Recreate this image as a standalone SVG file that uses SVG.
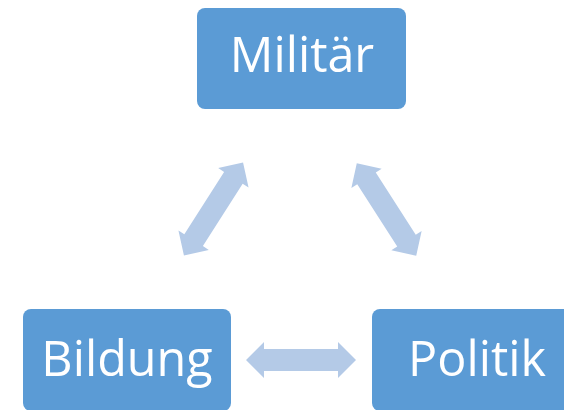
<svg xmlns="http://www.w3.org/2000/svg" width="564" height="410" viewBox="0 0 564 410">
<defs>
<style>
.box{fill:#5B9BD5;}
.lbl{fill:#FFFFFF;font-family:"Open Sans","Liberation Sans",sans-serif;font-size:48.5px;text-anchor:middle;}
.arr{fill:#B4CAE7;}
</style>
<path id="dbl" d="M-55,0 L-37,-18 L-37,-11 L37,-11 L37,-18 L55,0 L37,18 L37,11 L-37,11 L-37,18 Z"/>
</defs>
<rect width="564" height="410" fill="#FFFFFF"/>
<g id="connectors" class="arr">
<use href="#dbl" transform="translate(301,360)"/>
<use href="#dbl" transform="translate(213.5,209) rotate(-57.5)"/>
<use href="#dbl" transform="translate(386.5,209.5) rotate(57.3)"/>
</g>
<g id="militaer">
<rect class="box" x="197" y="8" width="209" height="101" rx="8"/>
<text class="lbl" x="302" y="72">Militär</text>
</g>
<g id="bildung">
<rect class="box" x="23" y="309" width="208" height="102" rx="8"/>
<text class="lbl" x="127" y="376">Bildung</text>
</g>
<g id="politik">
<rect class="box" x="372" y="309" width="209" height="102" rx="8"/>
<text class="lbl" x="477" y="376">Politik</text>
</g>
</svg>
